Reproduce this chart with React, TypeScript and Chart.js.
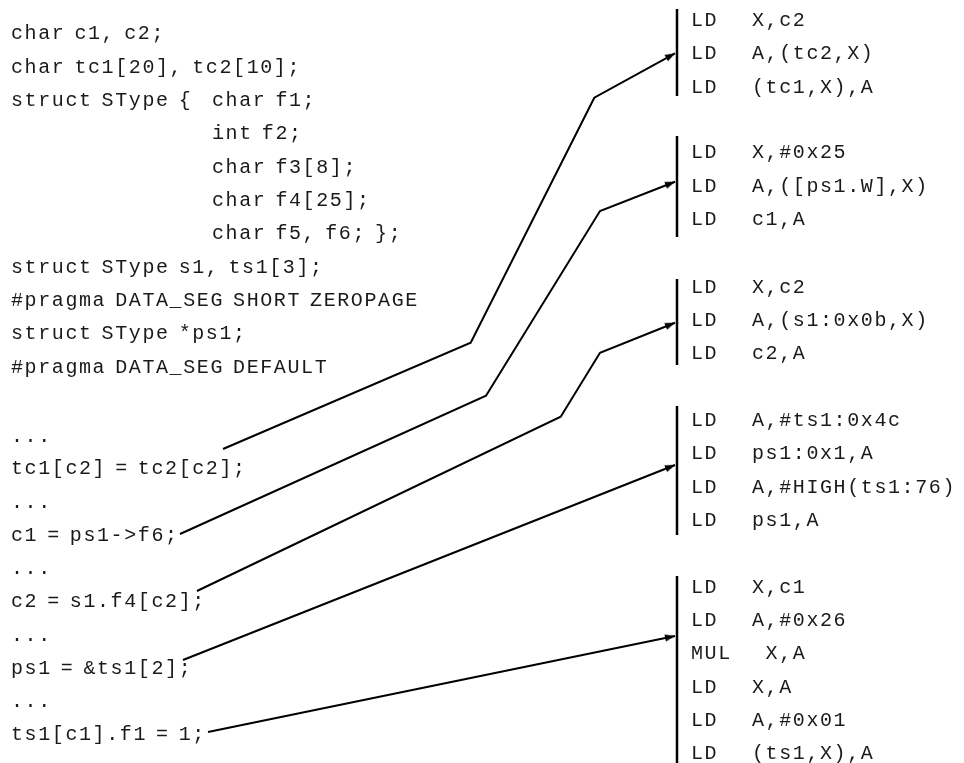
import React, { useEffect, useRef } from "react";
import { Chart, registerables } from "chart.js";

Chart.register(...registerables);

// ---- C source text (left column) ----
const sourceLines = [
  "char c1, c2;",
  "char tc1[20], tc2[10];",
  "struct SType {",
  "char f1;",
  "int f2;",
  "char f3[8];",
  "char f4[25];",
  "char f5, f6; };",
  "struct SType s1, ts1[3];",
  "#pragma DATA_SEG SHORT ZEROPAGE",
  "struct SType *ps1;",
  "#pragma DATA_SEG DEFAULT",
  "...",
  "tc1[c2] = tc2[c2];",
  "...",
  "c1 = ps1->f6;",
  "...",
  "c2 = s1.f4[c2];",
  "...",
  "ps1 = &ts1[2];",
  "...",
  "ts1[c1].f1 = 1;",
];
const sourceX = [11, 11, 11, 212, 212, 212, 212, 212, 11, 11, 11, 11, 11, 11, 11, 11, 11, 11, 11, 11, 11, 11];
const sourceY = [
  39.3, 72.7, 106, 106, 139.3, 172.7, 206, 239.3, 272.7, 306, 339.3, 372.7,
  441.5, 474, 507.5, 540.5, 574, 607, 640.5, 673.5, 707, 740,
];

// ---- assembler listing (right column) ----
const asmMnemonics = [
  "LD", "LD", "LD",
  "LD", "LD", "LD",
  "LD", "LD", "LD",
  "LD", "LD", "LD", "LD",
  "LD", "LD", "MUL", "LD", "LD", "LD",
];
const asmOperands = [
  "X,c2", "A,(tc2,X)", "(tc1,X),A",
  "X,#0x25", "A,([ps1.W],X)", "c1,A",
  "X,c2", "A,(s1:0x0b,X)", "c2,A",
  "A,#ts1:0x4c", "ps1:0x1,A", "A,#HIGH(ts1:76)", "ps1,A",
  "X,c1", "A,#0x26", " X,A", "X,A", "A,#0x01", "(ts1,X),A",
];
const asmY = [
  26, 59.3, 92.7,
  158.3, 191.7, 225,
  292.7, 326, 359.3,
  426, 459.3, 492.7, 526,
  592.7, 626, 659.3, 692.7, 726, 759.3,
];
const mnemonicX = 691;
const operandX = 752;

// ---- block bars ----
const barX = 677;
const barTop = [9, 136, 279, 406, 576];
const barBottom = [96, 237, 365, 535, 763];

// ---- connector polylines ----
const linkX = [
  [223, 470.7, 594.3, 675],
  [180, 486, 600, 675],
  [197, 560.7, 600, 675],
  [183, 675],
  [208, 675],
];
const linkY = [
  [449, 342.7, 97.7, 53.3],
  [534, 395.7, 211, 181.7],
  [591, 416.7, 352.7, 322.7],
  [660, 465],
  [732, 636],
];

const W = 964;
const H = 763;

function makeArrowHead(): HTMLCanvasElement {
  const c = document.createElement("canvas");
  c.width = 26;
  c.height = 26;
  const g = c.getContext("2d")!;
  g.fillStyle = "#000";
  g.beginPath();
  g.moveTo(13, 13);
  g.lineTo(16.6, 23);
  g.lineTo(9.4, 23);
  g.closePath();
  g.fill();
  return c;
}

const textPlugin = {
  id: "codeText",
  afterDatasetsDraw(chart: any) {
    const { ctx, scales } = chart;
    const xs = scales.x;
    const ys = scales.y;
    ctx.save();
    ctx.fillStyle = "#1a1a1a";
    ctx.font = '20px "Liberation Mono", monospace';
    ctx.textAlign = "left";
    ctx.textBaseline = "alphabetic";
    try {
      (ctx as any).letterSpacing = "1.6px";
      (ctx as any).wordSpacing = "-4.6px";
    } catch (e) {}
    sourceLines.forEach((t, i) => {
      ctx.fillText(t, xs.getPixelForValue(sourceX[i]), ys.getPixelForValue(sourceY[i]));
    });
    try {
      (ctx as any).wordSpacing = "-5px";
    } catch (e) {}
    asmMnemonics.forEach((t, i) => {
      ctx.fillText(t, xs.getPixelForValue(mnemonicX), ys.getPixelForValue(asmY[i]));
      ctx.fillText(asmOperands[i], xs.getPixelForValue(operandX), ys.getPixelForValue(asmY[i]));
    });
    ctx.restore();
  },
};

export default function App() {
  const ref = useRef<HTMLCanvasElement | null>(null);

  useEffect(() => {
    document.body.style.margin = "0";
    const canvas = ref.current;
    if (!canvas) return;

    const arrow = makeArrowHead();

    const barSets = barTop.map((t, i) => ({
      data: [
        { x: barX, y: t },
        { x: barX, y: barBottom[i] },
      ],
      showLine: true,
      borderColor: "#000",
      borderWidth: 2.5,
      pointRadius: 0,
      clip: false as any,
    }));

    const linkSets = linkX.map((xsArr, i) => ({
      data: xsArr.map((x, j) => ({ x, y: linkY[i][j] })),
      showLine: true,
      borderColor: "#000",
      borderWidth: 2,
      pointRadius: 0,
      tension: 0,
      clip: false as any,
    }));

    const tips = linkX.map((xsArr, i) => ({
      x: xsArr[xsArr.length - 1],
      y: linkY[i][linkY[i].length - 1],
    }));
    const rotations = linkX.map((xsArr, i) => {
      const n = xsArr.length;
      const dx = xsArr[n - 1] - xsArr[n - 2];
      const dy = linkY[i][n - 1] - linkY[i][n - 2];
      return (Math.atan2(dx, -dy) * 180) / Math.PI;
    });

    const chart = new Chart(canvas, {
      type: "scatter",
      data: {
        datasets: [
          ...barSets,
          ...linkSets,
          {
            data: tips,
            showLine: false,
            pointStyle: arrow as any,
            rotation: rotations as any,
            pointRadius: 6,
            clip: false as any,
          } as any,
        ] as any,
      },
      options: {
        responsive: false,
        maintainAspectRatio: false,
        animation: false,
        events: [],
        layout: { padding: 0, autoPadding: false } as any,
        plugins: {
          legend: { display: false },
          tooltip: { enabled: false },
        },
        scales: {
          x: { type: "linear", min: 0, max: W, display: false },
          y: { type: "linear", min: 0, max: H, reverse: true, display: false },
        },
      },
      plugins: [textPlugin],
    });

    return () => chart.destroy();
  }, []);

  return (
    <div style={{ width: W, height: H, background: "#fff" }}>
      <canvas ref={ref} width={W} height={H} style={{ display: "block" }} />
    </div>
  );
}
